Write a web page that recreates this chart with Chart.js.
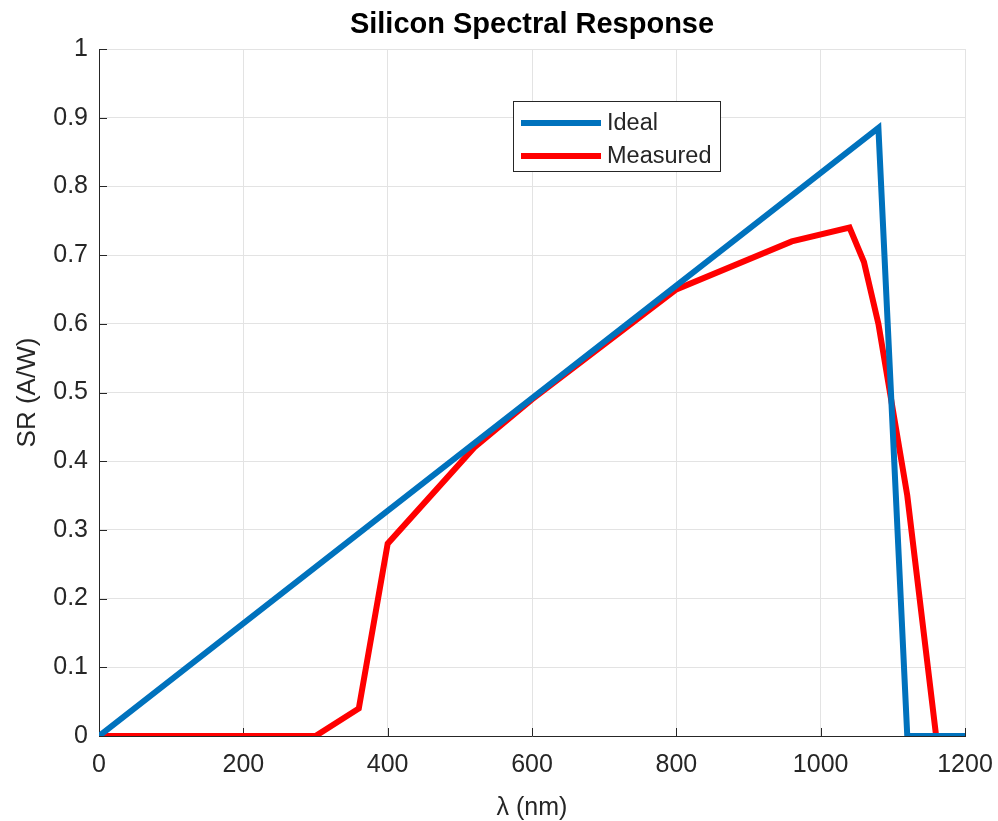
<!DOCTYPE html>
<html lang="en">
<head>
  <meta charset="UTF-8">
  <title>Silicon Spectral Response</title>
  <script src="https://cdn.jsdelivr.net/npm/chart.js"></script>
  <style>
    body { margin: 0; background: #fff; }
  </style>
</head>
<body>
  <canvas id="srChart" width="998" height="821"></canvas>

  <script>
    // values
    const idealWavelength = [0, 1080, 1120, 1200];
    const idealSR = [0, 0.885, 0, 0];

    const measuredWavelength = [0, 300, 360, 400, 520, 600, 700, 800, 960, 1040, 1060, 1080, 1120, 1160, 1200];
    const measuredSR = [0, 0, 0.04, 0.28, 0.42, 0.49, 0.57, 0.65, 0.72, 0.74, 0.69, 0.60, 0.35, 0, 0];

    const xTicks = [0, 200, 400, 600, 800, 1000, 1200];
    const yTicks = [0, 0.1, 0.2, 0.3, 0.4, 0.5, 0.6, 0.7, 0.8, 0.9, 1];

    const toPoints = (xs, ys) => xs.map((x, i) => ({ x: x, y: ys[i] }));

    const axisColor = '#262626';
    const font = 'Liberation Sans, Arial, Helvetica, sans-serif';

    // title drawn above the plot box
    const titlePlugin = {
      id: 'topTitle',
      afterDraw(chart) {
        const { ctx, chartArea } = chart;
        ctx.save();
        ctx.fillStyle = '#000';
        ctx.font = 'bold 29px ' + font;
        ctx.textAlign = 'center';
        ctx.textBaseline = 'middle';
        ctx.fillText('Silicon Spectral Response', (chartArea.left + chartArea.right) / 2, 25);
        ctx.restore();
      }
    };

    // matlab style inward tick marks
    const tickMarks = {
      id: 'tickMarks',
      beforeDatasetsDraw(chart) {
        const { ctx, chartArea, scales } = chart;
        ctx.save();
        ctx.strokeStyle = axisColor;
        ctx.lineWidth = 1;
        ctx.beginPath();
        xTicks.forEach(v => {
          const px = Math.round(scales.x.getPixelForValue(v)) + 0.5;
          ctx.moveTo(px, chartArea.bottom);
          ctx.lineTo(px, chartArea.bottom - 8);
        });
        yTicks.forEach(v => {
          const py = Math.round(scales.y.getPixelForValue(v)) + 0.5;
          ctx.moveTo(chartArea.left, py);
          ctx.lineTo(chartArea.left + 8, py);
        });
        ctx.stroke();
        ctx.restore();
      }
    };

    // boxed legend inside the axes
    const boxLegend = {
      id: 'boxLegend',
      afterDraw(chart) {
        const { ctx } = chart;
        const x0 = 513, y0 = 101, w = 207, h = 70;
        ctx.save();
        ctx.fillStyle = '#fff';
        ctx.fillRect(x0, y0, w, h);
        ctx.strokeStyle = axisColor;
        ctx.lineWidth = 1;
        ctx.strokeRect(x0 + 0.5, y0 + 0.5, w, h);
        ctx.font = '23.5px ' + font;
        ctx.textBaseline = 'middle';
        chart.data.datasets.forEach((ds, i) => {
          const y = y0 + 22 + i * 33;
          ctx.strokeStyle = ds.borderColor;
          ctx.lineWidth = 6;
          ctx.beginPath();
          ctx.moveTo(x0 + 8, y);
          ctx.lineTo(x0 + 88, y);
          ctx.stroke();
          ctx.fillStyle = axisColor;
          ctx.fillText(ds.label, x0 + 94, y + 1);
        });
        ctx.restore();
      }
    };

    new Chart(document.getElementById('srChart'), {
      type: 'line',
      data: {
        datasets: [
          {
            label: 'Ideal',
            data: toPoints(idealWavelength, idealSR),
            borderColor: '#0072BD',
            borderWidth: 6,
            pointRadius: 0,
            tension: 0
          },
          {
            label: 'Measured',
            data: toPoints(measuredWavelength, measuredSR),
            borderColor: '#FF0000',
            borderWidth: 6,
            pointRadius: 0,
            tension: 0
          }
        ]
      },
      options: {
        responsive: false,
        animation: false,
        layout: { padding: { top: 49, right: 33, bottom: 0, left: 0 } },
        plugins: {
          legend: { display: false },
          title: { display: false },
          tooltip: { enabled: false }
        },
        scales: {
          x: {
            type: 'linear',
            min: 0,
            max: 1200,
            afterBuildTicks: scale => { scale.ticks = xTicks.map(v => ({ value: v })); },
            afterFit: scale => {
              scale.height = 85;
              scale.paddingLeft = 0;
              scale.paddingRight = 0;
            },
            ticks: {
              color: axisColor,
              font: { family: font, size: 25 },
              padding: 14,
              maxRotation: 0,
              callback: v => String(v)
            },
            grid: { color: '#e3e3e3', drawTicks: false },
            border: { color: axisColor, width: 1 },
            title: {
              display: true,
              text: 'λ (nm)',
              color: axisColor,
              font: { family: font, size: 25 },
              padding: { top: 0, bottom: -2 }
            }
          },
          y: {
            min: 0,
            max: 1,
            afterBuildTicks: scale => { scale.ticks = yTicks.map(v => ({ value: v })); },
            afterFit: scale => {
              scale.width = 99;
              scale.paddingTop = 0;
              scale.paddingBottom = 0;
            },
            ticks: {
              color: axisColor,
              font: { family: font, size: 25 },
              padding: 11,
              callback: v => String(Number(v.toFixed(1)))
            },
            grid: { color: '#e3e3e3', drawTicks: false },
            border: { color: axisColor, width: 1 },
            title: {
              display: true,
              text: 'SR (A/W)',
              color: axisColor,
              font: { family: font, size: 26 },
              padding: { top: 12, bottom: 0 }
            }
          }
        }
      },
      plugins: [tickMarks, boxLegend, titlePlugin]
    });
  </script>
</body>
</html>
